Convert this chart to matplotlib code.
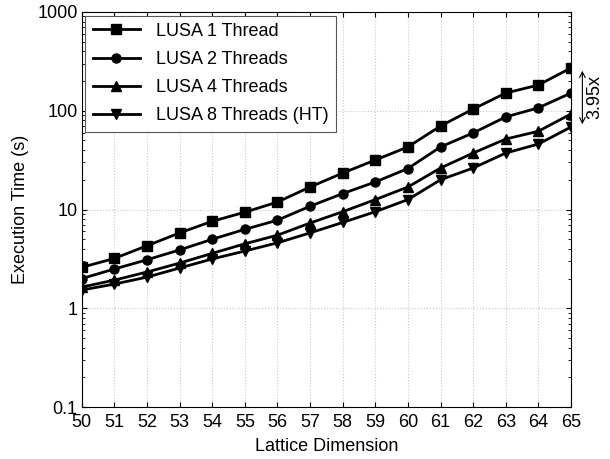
import matplotlib
matplotlib.use('Agg')
import matplotlib.pyplot as plt
import matplotlib.ticker as ticker
import numpy as np

plt.rcParams['font.family'] = ['Liberation Sans', 'DejaVu Sans']

# Donnees
dims = np.arange(50, 66)
t1 = [2.6, 3.2, 4.3, 5.8, 7.6, 9.4, 11.9, 16.9, 23.4, 31.7, 43, 70, 104, 151, 182, 271]
t2 = [2.0, 2.5, 3.1, 3.9, 5.0, 6.3, 7.8, 10.8, 14.5, 19, 26, 43, 59.6, 86.5, 107, 151]
t4 = [1.64, 1.93, 2.33, 2.87, 3.6, 4.5, 5.5, 7.3, 9.5, 12.6, 16.9, 26.3, 37.3, 51.7, 62, 92.7]
t8 = [1.53, 1.76, 2.07, 2.56, 3.16, 3.8, 4.6, 5.8, 7.4, 9.5, 12.6, 20, 26.3, 37.3, 46, 68.4]
labels = ['LUSA 1 Thread', 'LUSA 2 Threads', 'LUSA 4 Threads', 'LUSA 8 Threads (HT)']
markers = ['s', 'o', '^', 'v']

fig = plt.figure(figsize=(6.1, 4.59), dpi=100)
ax = fig.add_axes([0.134, 0.113, 0.802, 0.861])

for serie, lab, m in zip([t1, t2, t4, t8], labels, markers):
    ax.plot(dims, serie, color='black', lw=2, marker=m, ms=6.5, label=lab)

ax.set_yscale('log')
ax.set_ylim(0.1, 1000)
ax.set_xlim(50, 65)
ax.set_xticks(dims)
ax.yaxis.set_major_formatter(ticker.FuncFormatter(lambda v, p: '%g' % v))
ax.tick_params(which='both', direction='in', top=True, right=True, labelsize=13)
ax.tick_params(axis='x', pad=5)
ax.tick_params(axis='y', pad=3)
ax.grid(True, which='major', ls=':', color='#c8c8c8', lw=0.8)

ax.set_xlabel('Lattice Dimension', fontsize=13, labelpad=5)
ax.set_ylabel('Execution Time (s)', fontsize=13, labelpad=6)

leg = ax.legend(loc='upper left', fontsize=13, fancybox=False, framealpha=1,
                edgecolor='#555555', borderaxespad=0.2, handlelength=2.6,
                handletextpad=0.9, labelspacing=0.62, borderpad=0.4)
leg.get_frame().set_linewidth(0.8)

# Fleche de gain 3.95x
ax.annotate('', xy=(65.35, t1[-1]), xytext=(65.35, t8[-1]),
            arrowprops=dict(arrowstyle='<->', color='black', lw=0.8),
            annotation_clip=False)
ax.text(65.72, np.sqrt(t1[-1] * t8[-1]), '3.95x', rotation=90, va='center',
        ha='center', fontsize=13, clip_on=False)

fig.savefig('out.png', dpi=100)
